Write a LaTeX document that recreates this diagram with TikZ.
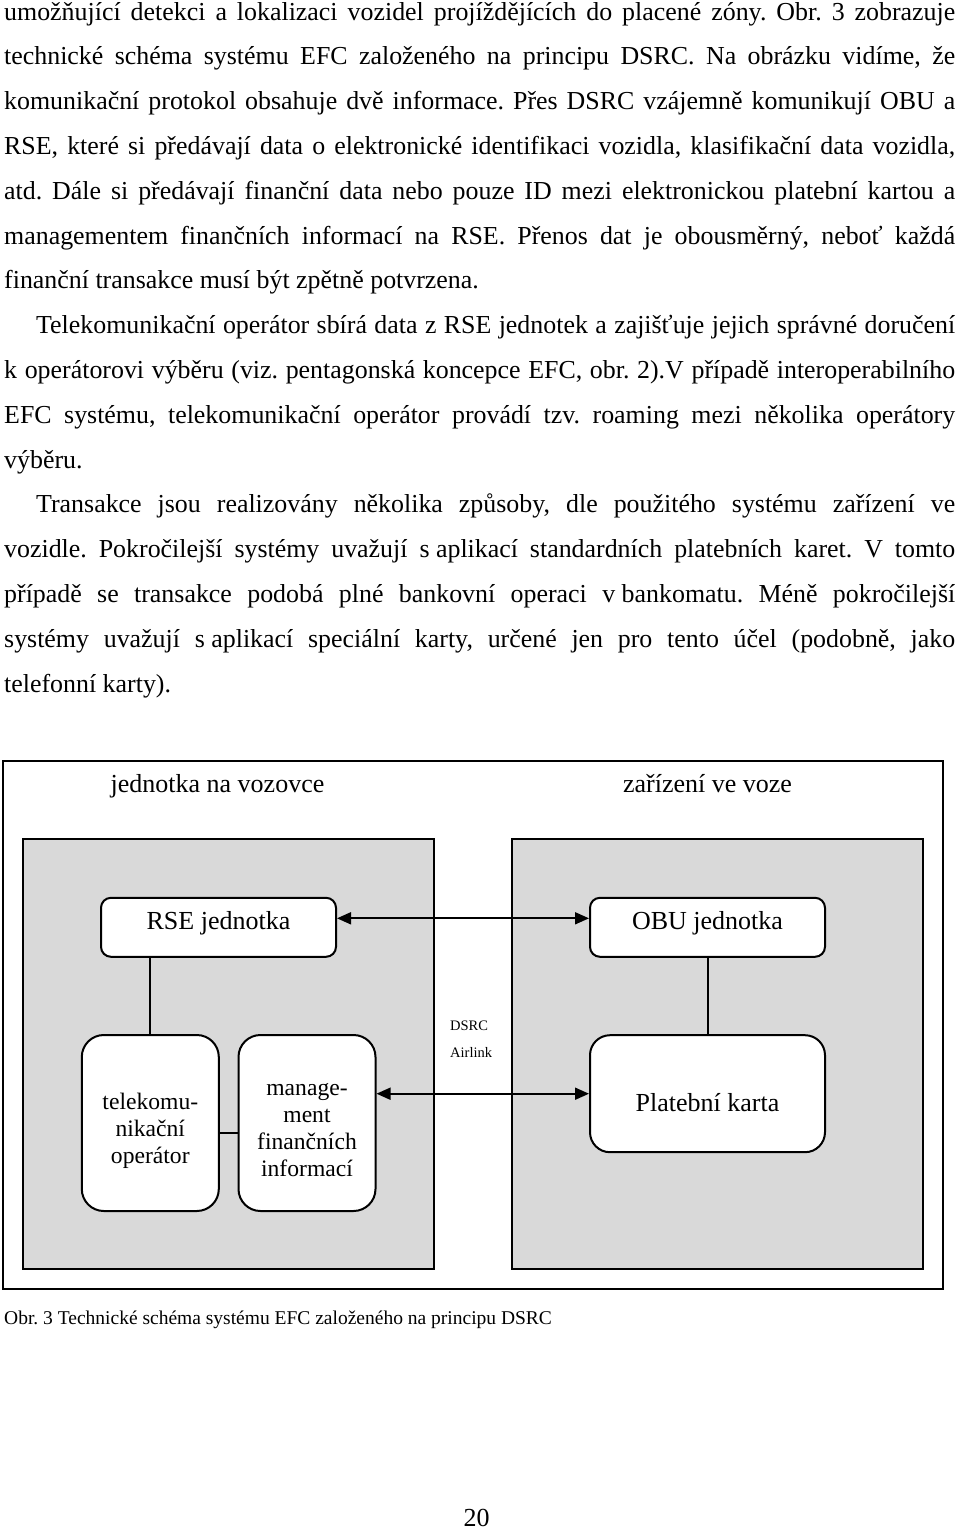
\documentclass[tikz,border=0pt]{standalone}
\usepackage{fontspec}
\setmainfont{Liberation Serif}
\usetikzlibrary{arrows.meta}
\definecolor{zonegray}{RGB}{217,217,217}
\frenchspacing
\begin{document}
\begin{tikzpicture}[x=1pt,y=1pt,
  bodyline/.style={anchor=base west, inner sep=0pt, font=\fontsize{25.9}{30}\selectfont},
  frame/.style={draw, line width=2pt, inner sep=0pt},
  zone/.style={draw, line width=1.8pt, fill=zonegray, inner sep=0pt},
  unit/.style={draw, line width=2pt, fill=white, rounded corners=10pt, inner sep=0pt,
    font=\fontsize{26}{27}\selectfont},
  unitbig/.style={unit, rounded corners=22pt},
  boxtext/.style={inner sep=0pt, align=center, font=\fontsize{23.6}{27}\selectfont},
  zonelabel/.style={anchor=base, inner sep=0pt, font=\fontsize{26}{27}\selectfont},
  small/.style={anchor=base west, inner sep=0pt, font=\fontsize{14.5}{16}\selectfont},
  conn/.style={line width=1.8pt},
  arr/.style={conn, {Triangle[length=14pt,width=12pt]}-{Triangle[length=14pt,width=12pt]}}
]
\useasboundingbox (0,0) rectangle (960,-1532);
\fill[white] (0,0) rectangle (960,-1532);

% body text
\node[bodyline] (l1) at (4,-20) {\makebox[951pt][s]{umožňující detekci a lokalizaci vozidel projíždějících do placené zóny. Obr. 3 zobrazuje}};
\node[bodyline] (l2) at (4,-64.8) {\makebox[951pt][s]{technické schéma systému EFC založeného na principu DSRC. Na obrázku vidíme, že}};
\node[bodyline] (l3) at (4,-109.6) {\makebox[951pt][s]{komunikační protokol obsahuje dvě informace. Přes DSRC vzájemně komunikují OBU a}};
\node[bodyline] (l4) at (4,-154.4) {\makebox[951pt][s]{RSE, které si předávají data o elektronické identifikaci vozidla, klasifikační data vozidla,}};
\node[bodyline] (l5) at (4,-199.2) {\makebox[951pt][s]{atd. Dále si předávají finanční data nebo pouze ID mezi elektronickou platební kartou a}};
\node[bodyline] (l6) at (4,-244) {\makebox[951pt][s]{managementem finančních informací na RSE. Přenos dat je obousměrný, neboť každá}};
\node[bodyline] (l7) at (4,-288.8) {finanční transakce musí být zpětně potvrzena.};
\node[bodyline] (l8) at (36,-333.6) {\makebox[919pt][s]{Telekomunikační operátor sbírá data z RSE jednotek a zajišťuje jejich správné doručení}};
\node[bodyline] (l9) at (4,-378.4) {\makebox[951pt][s]{k operátorovi výběru (viz. pentagonská koncepce EFC, obr. 2).V případě interoperabilního}};
\node[bodyline] (l10) at (4,-423.2) {\makebox[951pt][s]{EFC systému, telekomunikační operátor provádí tzv. roaming mezi několika operátory}};
\node[bodyline] (l11) at (4,-468) {výběru.};
\node[bodyline] (l12) at (36,-512.8) {\makebox[919pt][s]{Transakce jsou realizovány několika způsoby, dle použitého systému zařízení ve}};
\node[bodyline] (l13) at (4,-557.6) {\makebox[951pt][s]{vozidle. Pokročilejší systémy uvažují s\hspace{0.25em}aplikací standardních platebních karet. V tomto}};
\node[bodyline] (l14) at (4,-602.4) {\makebox[951pt][s]{případě se transakce podobá plné bankovní operaci v\hspace{0.25em}bankomatu. Méně pokročilejší}};
\node[bodyline] (l15) at (4,-647.2) {\makebox[951pt][s]{systémy uvažují s\hspace{0.25em}aplikací speciální karty, určené jen pro tento účel (podobně, jako}};
\node[bodyline] (l16) at (4,-692) {telefonní karty).};

% diagram containers
\node[frame, minimum width=940pt, minimum height=528pt] (fr) at (473,-1025) {};
\node[zone, minimum width=411pt, minimum height=430pt] (lz) at (228.5,-1054) {};
\node[zone, minimum width=411pt, minimum height=430pt] (rz) at (717.5,-1054) {};

\node[zonelabel] (lzl) at (217.5,-792.7) {jednotka na vozovce};
\node[zonelabel] (rzl) at (707.5,-792) {zařízení ve voze};

% units
\node[unit, minimum width=235pt, minimum height=59pt, text height=11pt, text depth=5.7pt] (rse) at (218.5,-927.3) {RSE jednotka};
\node[unit, minimum width=235pt, minimum height=59pt, text height=11pt, text depth=5.7pt] (obu) at (707.5,-927.3) {OBU jednotka};
\node[unitbig, minimum width=137pt, minimum height=176pt] (tel) at (150.3,-1123) {};
\node[boxtext] (telt) at ([yshift=-8pt]tel.center) {telekomu-\\nikační\\operátor};
\node[unitbig, minimum width=137pt, minimum height=176pt] (mgmt) at (307,-1123) {};
\node[boxtext] (mgmtt) at ([yshift=-7pt]mgmt.center) {manage-\\ment\\finančních\\informací};
\node[unit, rounded corners=20pt, minimum width=235pt, minimum height=117pt, text height=41.8pt, text depth=5.7pt] (card) at (707.5,-1093.7) {Platební karta};

\node[small] (dsrc) at (450,-1030.7) {DSRC};
\node[small] (air) at (450,-1057) {Airlink};

% connectors
\draw[arr] ([yshift=9pt]rse.east) -- ([yshift=9pt]obu.west);
\draw[conn] (tel.north) -- (tel.north |- rse.south);
\draw[conn] ([xshift=0.8pt]obu.south) -- ([xshift=0.8pt]card.north);
\draw[conn] ([yshift=-10pt]tel.east) -- ([yshift=-10pt]mgmt.west);
\draw[arr] (mgmt.east |- card.west) -- (card.west);

% caption and page number
\node[anchor=base west, inner sep=0pt, font=\fontsize{19.5}{22}\selectfont] (cap) at (4,-1324) {Obr. 3 Technické schéma systému EFC založeného na principu DSRC};
\node[anchor=base, inner sep=0pt, font=\fontsize{26}{28}\selectfont] (pg) at (476.7,-1526.7) {20};
\end{tikzpicture}
\end{document}
